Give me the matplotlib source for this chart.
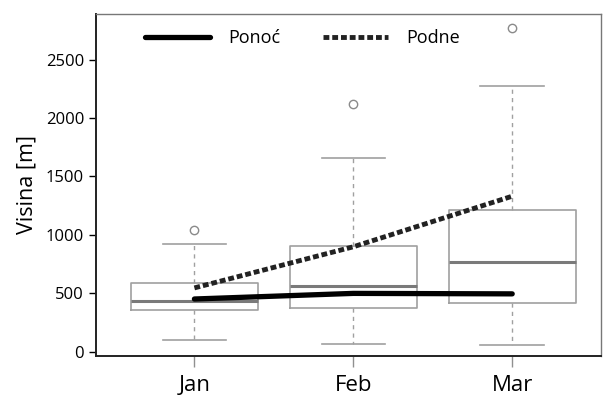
import matplotlib
matplotlib.use("Agg")
import matplotlib.pyplot as plt

plt.rcParams["font.family"] = ["Open Sans", "DejaVu Sans"]

# box statistics
months = ["Jan", "Feb", "Mar"]
q1 = [359, 376, 419]
median = [436, 564, 769]
q3 = [590, 906, 1214]
whis_lo = [103, 68, 60]
whis_hi = [923, 1658, 2274]
outliers = [[1043], [2120], [2769]]

# mean lines
ponoc = [450, 498, 494]
podne = [545, 897, 1330]

fig = plt.figure(figsize=(6.03, 4.0), dpi=100)
ax = fig.add_axes([0.159, 0.11, 0.838, 0.855])

stats = []
for i, m in enumerate(months):
    stats.append(dict(label=m, q1=q1[i], med=median[i], q3=q3[i],
                      whislo=whis_lo[i], whishi=whis_hi[i], fliers=outliers[i]))

pos = [1, 2, 3]
ax.bxp(stats, positions=pos, widths=0.8, showfliers=True,
       boxprops=dict(color="#a0a0a0", linewidth=1.2),
       medianprops=dict(color="#7a7a7a", linewidth=2.2),
       whiskerprops=dict(color="#a0a0a0", linewidth=1.0, linestyle=(0, (3, 3))),
       capprops=dict(color="#a0a0a0", linewidth=1.2),
       flierprops=dict(marker="o", markersize=6, markerfacecolor="none",
                       markeredgecolor="#8a8a8a", markeredgewidth=1.0),
       capwidths=0.4)

ax.plot(pos, ponoc, color="black", linewidth=3.8, solid_capstyle="round",
        label="Ponoć", zorder=5)
ax.plot(pos, podne, color="#222222", linewidth=3.5, dashes=(1.2, 0.6),
        label="Podne", zorder=5)

ax.set_xlim(0.38, 3.56)
ax.set_ylim(-38, 2890)
ax.set_yticks([0, 500, 1000, 1500, 2000, 2500])
ax.set_xticks(pos)
ax.set_xticklabels(months, fontsize=16)
ax.tick_params(axis="y", labelsize=12, length=5, width=1, direction="out")
ax.tick_params(axis="x", length=8, width=1, color="#909090", pad=6)
ax.set_ylabel("Visina [m]", fontsize=15.5, labelpad=6)

for s in ["left", "bottom"]:
    ax.spines[s].set_color("#222222")
    ax.spines[s].set_linewidth(1.4)
for s in ["top", "right"]:
    ax.spines[s].set_color("#777777")
    ax.spines[s].set_linewidth(1.0)

ax.legend(loc="center left", ncol=2, frameon=False, fontsize=13,
          handlelength=3.6, columnspacing=2.4, handletextpad=1.0,
          bbox_to_anchor=(0.065, 0.93))

fig.savefig("out.png", dpi=100)
